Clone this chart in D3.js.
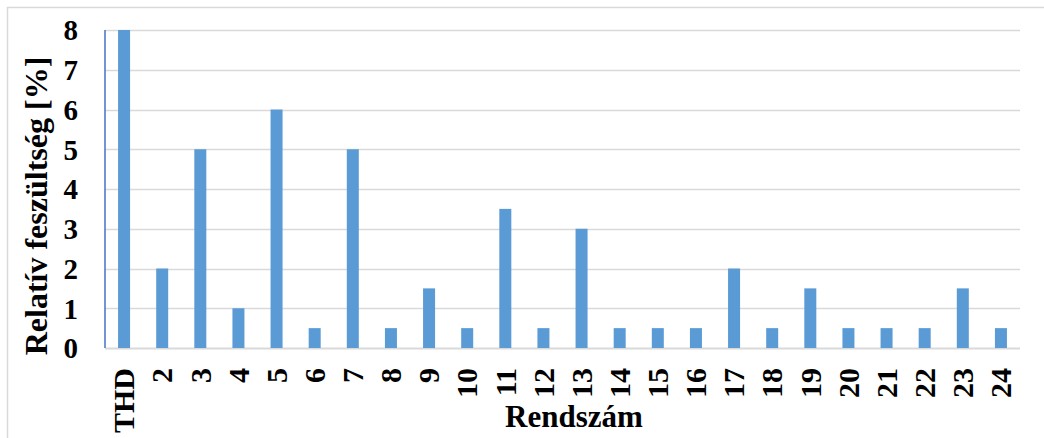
<!DOCTYPE html>
<html>
<head>
<meta charset="utf-8">
<script src="https://cdn.jsdelivr.net/npm/d3@7"></script>
<style>
  html, body { margin: 0; padding: 0; background: #fff; }
  svg { display: block; }
</style>
</head>
<body>
<svg id="chart" width="1044" height="438"></svg>
<script>
// Harmonic orders and their relative voltage (%)
const categories = ["THD", "2", "3", "4", "5", "6", "7", "8", "9", "10", "11", "12",
                    "13", "14", "15", "16", "17", "18", "19", "20", "21", "22", "23", "24"];
const values = [8, 2, 5, 1, 6, 0.5, 5, 0.5, 1.5, 0.5, 3.5, 0.5,
                3, 0.5, 0.5, 0.5, 2, 0.5, 1.5, 0.5, 0.5, 0.5, 1.5, 0.5];
const yTicks = [0, 1, 2, 3, 4, 5, 6, 7, 8];
const yTitle = "Relatív feszültség [%]";
const xTitle = "Rendszám";

const FONT = '"Liberation Serif", "Times New Roman", serif';
const svg = d3.select("#chart");
const plotLeft = 105, plotRight = 1020, plotTop = 30, plotBottom = 348;

// chart frame
svg.append("rect")
  .attr("x", 7.5).attr("y", 7.5)
  .attr("width", 1044).attr("height", 440)
  .attr("fill", "none").attr("stroke", "#d9d9d9").attr("stroke-width", 1.5);

const x = d3.scaleBand().domain(categories).range([plotLeft, plotRight]).paddingInner(0.685).paddingOuter(0.3425);
const y = d3.scaleLinear().domain([0, 8]).range([plotBottom, plotTop]);

// horizontal gridlines
svg.append("g").selectAll("line").data(yTicks).join("line")
  .attr("x1", plotLeft).attr("x2", plotRight)
  .attr("y1", d => Math.round(y(d)) + 0.5).attr("y2", d => Math.round(y(d)) + 0.5)
  .attr("stroke", "#d9d9d9").attr("stroke-width", d => d === 0 ? 2 : 1.5);

// bars
svg.append("g").selectAll("rect").data(values).join("rect")
  .attr("x", (d, i) => x(categories[i]))
  .attr("width", x.bandwidth())
  .attr("y", d => y(d))
  .attr("height", d => y(0) - y(d))
  .attr("fill", "#5b9bd5");

// vertical axis line
svg.append("line")
  .attr("x1", plotLeft).attr("x2", plotLeft)
  .attr("y1", y(8)).attr("y2", y(0))
  .attr("stroke", "#4472c4").attr("stroke-width", 1.5);

// y axis tick labels
const yAxis = d3.axisLeft(y).tickValues(yTicks).tickFormat(d3.format("d")).tickSize(0).tickPadding(27);
const gy = svg.append("g").attr("transform", `translate(${plotLeft},0)`).call(yAxis);
gy.attr("font-family", null).attr("font-size", null);
gy.select(".domain").remove();
gy.selectAll("text")
  .style("font-family", FONT).style("font-size", "29px").style("font-weight", "bold")
  .attr("fill", "#000").attr("dy", "0.34em");

// x axis tick labels, rotated
const xAxis = d3.axisBottom(x).tickSize(0).tickPadding(0);
const gx = svg.append("g").attr("transform", `translate(0,${plotBottom})`).call(xAxis);
gx.attr("font-family", null).attr("font-size", null);
gx.select(".domain").remove();
gx.selectAll("text")
  .style("font-family", FONT).style("font-size", "30px").style("font-weight", "bold")
  .attr("fill", "#000")
  .attr("text-anchor", "end")
  .attr("transform", "rotate(-90)")
  .attr("x", -20).attr("y", 0).attr("dy", "0.34em");

// axis titles
svg.append("text")
  .attr("transform", `translate(47,${(plotTop + plotBottom) / 2 + 17}) rotate(-90)`)
  .attr("text-anchor", "middle")
  .style("font-family", FONT).style("font-size", "32px").style("font-weight", "bold")
  .attr("fill", "#000")
  .text(yTitle);

svg.append("text")
  .attr("x", 574).attr("y", 427)
  .attr("text-anchor", "middle")
  .style("font-family", FONT).style("font-size", "31px").style("font-weight", "bold")
  .attr("fill", "#000")
  .text(xTitle);
</script>
</body>
</html>
